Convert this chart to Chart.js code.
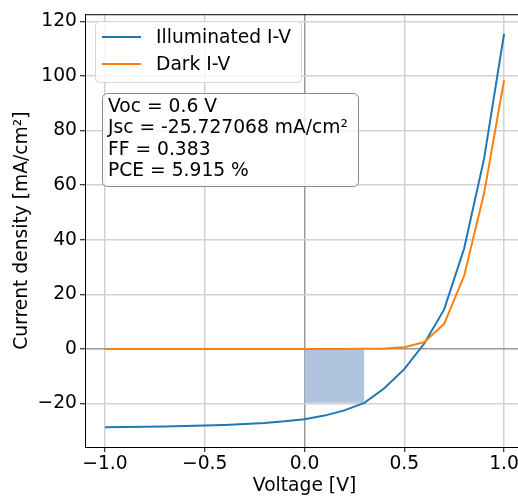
<!DOCTYPE html>
<html>
<head>
<meta charset="utf-8">
<script src="https://cdn.jsdelivr.net/npm/chart.js@4/dist/chart.umd.min.js"></script>
<style>
    html, body { margin: 0; padding: 0; background: #fff; overflow: hidden; }
    #wrap { width: 518px; height: 497px; overflow: hidden; }
</style>
</head>
<body>
<div id="wrap"><canvas id="iv" width="530" height="497"></canvas></div>
<script>
// sweep voltages [V] and measured current densities [mA/cm²]
const voltage = [-1.0, -0.9, -0.8, -0.7, -0.6, -0.5, -0.4, -0.3, -0.2, -0.1, 0.0,
                 0.1, 0.2, 0.3, 0.4, 0.5, 0.6, 0.7, 0.8, 0.9, 1.0];
const illuminated = [-28.7, -28.6, -28.5, -28.35, -28.2, -28.0, -27.8, -27.5, -27.1, -26.5, -25.727068,
                     -24.4, -22.5, -19.72, -14.4, -7.4, 2.0, 14.5, 36.8, 69.7, 115.4];
const dark = [-0.03, -0.03, -0.03, -0.03, -0.03, -0.03, -0.03, -0.03, -0.03, -0.03, 0.0,
              0.0, 0.01, 0.04, 0.15, 0.65, 2.5, 9.2, 26.8, 57.0, 98.4];

const xTicks = [-1.0, -0.5, 0.0, 0.5, 1.0];
const yTicks = [-20, 0, 20, 40, 60, 80, 100, 120];

// cell parameters
const voc = 0.6;
const jsc = -25.727068;
const ff = 0.383;
const pce = 5.915;
// maximum power point
const vmp = 0.3;
const jmp = -19.72;

const FONT = { family: 'DejaVu Sans', size: 18.7 };
const minus = (s) => s.replace('-', '\u2212');

// spines, legend box and parameter box
const extras = {
    id: 'extras',
    afterDraw(chart) {
        const { ctx, chartArea: a } = chart;
        ctx.save();

        ctx.strokeStyle = '#000';
        ctx.lineWidth = 1;
        ctx.beginPath();
        ctx.moveTo(a.left, a.top + 0.5);
        ctx.lineTo(a.right, a.top + 0.5);
        ctx.moveTo(a.right - 0.5, a.top);
        ctx.lineTo(a.right - 0.5, a.bottom);
        ctx.stroke();

        // legend
        const entries = chart.data.datasets.filter((d) => d.label);
        ctx.beginPath();
        ctx.roundRect(95.5, 21.5, 206, 61, 4);
        ctx.fillStyle = 'rgba(255,255,255,0.8)';
        ctx.fill();
        ctx.strokeStyle = '#d6d6d6';
        ctx.stroke();
        ctx.font = `${FONT.size}px "${FONT.family}"`;
        ctx.textBaseline = 'middle';
        entries.forEach((d, i) => {
            const y = 37 + i * 27;
            ctx.strokeStyle = d.borderColor;
            ctx.lineWidth = 2;
            ctx.beginPath();
            ctx.moveTo(102, y);
            ctx.lineTo(141, y);
            ctx.stroke();
            ctx.fillStyle = '#000';
            ctx.fillText(d.label, 156, y + 1);
        });

        // parameter box
        const lines = [
            `Voc = ${voc} V`,
            `Jsc = ${jsc} mA/cm\u00b2`,
            `FF = ${ff.toFixed(3)}`,
            `PCE = ${pce.toFixed(3)} %`,
        ];
        ctx.beginPath();
        ctx.roundRect(102.5, 93.5, 256, 93, 5);
        ctx.fillStyle = 'rgba(255,255,255,0.8)';
        ctx.fill();
        ctx.strokeStyle = '#8a8a8a';
        ctx.lineWidth = 1;
        ctx.stroke();
        ctx.fillStyle = '#000';
        lines.forEach((t, i) => ctx.fillText(t, 108, 107 + i * 21.5));

        ctx.restore();
    },
};

new Chart(document.getElementById('iv'), {
    type: 'line',
    data: {
        datasets: [
            {
                label: 'Illuminated I-V',
                data: voltage.map((v, i) => ({ x: v, y: illuminated[i] })),
                borderColor: '#1f77b4',
                borderWidth: 2,
                pointRadius: 0,
                order: 2,
            },
            {
                label: 'Dark I-V',
                data: voltage.map((v, i) => ({ x: v, y: dark[i] })),
                borderColor: '#ff7f0e',
                borderWidth: 2,
                pointRadius: 0,
                order: 1,
            },
            {
                // max power rectangle
                data: [{ x: 0, y: jmp }, { x: vmp, y: jmp }],
                borderWidth: 0,
                borderColor: 'rgba(0,0,0,0)',
                backgroundColor: '#b0c4de',
                fill: 'origin',
                pointRadius: 0,
                order: 3,
            },
        ],
    },
    options: {
        responsive: false,
        animation: false,
        devicePixelRatio: 1,
        layout: { padding: { left: 0, right: 6, top: 12, bottom: 0 } },
        plugins: { legend: { display: false }, tooltip: { enabled: false } },
        scales: {
            x: {
                type: 'linear',
                min: -1.1,
                max: 1.1,
                afterBuildTicks: (s) => { s.ticks = xTicks.map((v) => ({ value: v })); },
                afterFit: (s) => { s.height = 50; },
                ticks: {
                    font: FONT,
                    color: '#000',
                    padding: 0.5,
                    maxRotation: 0,
                    autoSkip: false,
                    callback: (v) => minus(Number(v).toFixed(1)),
                },
                grid: {
                    color: (c) => (c.tick && c.tick.value === 0 ? '#9a9a9a' : '#d2d2d2'),
                    lineWidth: 1.5,
                    tickLength: 5,
                    tickColor: '#000',
                    tickWidth: 1,
                },
                border: { color: '#000', width: 1 },
                title: {
                    display: true,
                    text: 'Voltage [V]',
                    font: FONT,
                    color: '#000',
                    padding: { top: 0, bottom: 0 },
                },
            },
            y: {
                type: 'linear',
                min: -35.9,
                max: 122.6,
                afterBuildTicks: (s) => { s.ticks = yTicks.map((v) => ({ value: v })); },
                afterFit: (s) => { s.width = 85; },
                ticks: {
                    font: FONT,
                    color: '#000',
                    padding: 3,
                    callback: (v) => minus(String(v)),
                },
                grid: {
                    color: (c) => (c.tick && c.tick.value === 0 ? '#9a9a9a' : '#d2d2d2'),
                    lineWidth: 1.5,
                    tickLength: 5,
                    tickColor: '#000',
                    tickWidth: 1,
                },
                border: { color: '#000', width: 1 },
                title: {
                    display: true,
                    text: 'Current density [mA/cm\u00b2]',
                    font: FONT,
                    color: '#000',
                    padding: { top: 11, bottom: 0 },
                },
            },
        },
    },
    plugins: [extras],
});
</script>
</body>
</html>
